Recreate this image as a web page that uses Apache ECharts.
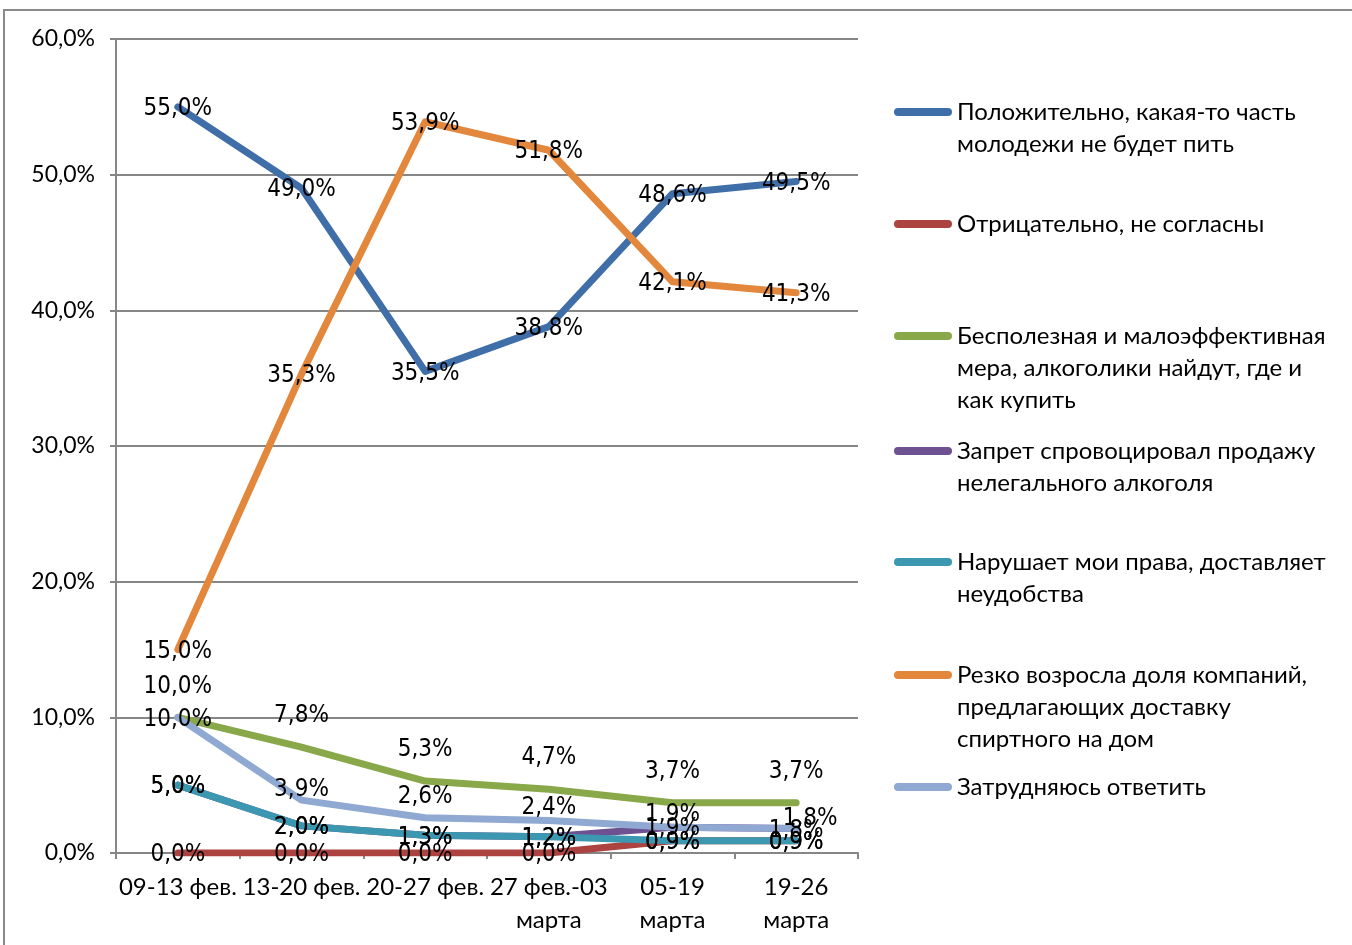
<!DOCTYPE html>
<html>
<head>
<meta charset="utf-8">
<script src="https://cdn.jsdelivr.net/npm/echarts@6/dist/echarts.min.js"></script>
<style>
html,body{margin:0;padding:0;background:#fff;}
#chart{width:1352px;height:945px;}
</style>
</head>
<body>
<div id="chart"></div>
<script>
// ---- data ----
const categories = ['09-13 фев.', '13-20 фев.', '20-27 фев.', '27 фев.-03\nмарта', '05-19\nмарта', '19-26\nмарта'];
const seriesNames = [
  'Положительно, какая-то часть\nмолодежи не будет пить',
  'Отрицательно, не согласны',
  'Бесполезная и малоэффективная\nмера, алкоголики найдут, где и\nкак купить',
  'Запрет спровоцировал продажу\nнелегального алкоголя',
  'Нарушает мои права, доставляет\nнеудобства',
  'Резко возросла доля компаний,\nпредлагающих доставку\nспиртного на дом',
  'Затрудняюсь ответить'
];
const positive   = [55.0, 49.0, 35.5, 38.8, 48.6, 49.5];
const negative   = [0.0, 0.0, 0.0, 0.0, 0.9, 0.9];
const useless    = [10.0, 7.8, 5.3, 4.7, 3.7, 3.7];
const illegal    = [5.0, 2.0, 1.3, 1.2, 1.9, 1.8];
const rights     = [5.0, 2.0, 1.3, 1.2, 0.9, 0.9];
const delivery   = [15.0, 35.3, 53.9, 51.8, 42.1, 41.3];
const undecided  = [10.0, 3.9, 2.6, 2.4, 1.9, 1.8];
const yTicks = [0, 10, 20, 30, 40, 50, 60];

// ---- styles ----
const colors = ['#3F6EA8', '#AD4340', '#88A84A', '#6E5190', '#3C97B0', '#E3873C', '#8FA9D2'];
const undecidedLabelOffsets = [[0, 2], [0, -10], [0, -21], [0, -13], [0, -12], [14, -10]];
const legendFirstLineY = [112, 224, 336, 451, 562, 675, 787];
const LH = 32;

const fmt = v => v.toFixed(1).replace('.', ',') + '%';
const allValues = [positive, negative, useless, illegal, rights, delivery, undecided];

const labelBase = {
  show: true,
  position: 'inside',
  fontFamily: '"DejaVu Sans Condensed", "Liberation Sans Narrow", sans-serif',
  fontSize: 24,
  color: '#000',
  opacity: 1,
  offset: [0, 2],
  formatter: p => fmt(p.value)
};

const series = allValues.map((vals, i) => {
  let data = vals.slice();
  let label = Object.assign({}, labelBase);
  if (i === 2) label.offset = [0, -31];
  if (i === 6) {
    data = vals.map((v, j) => ({ value: v, label: { offset: undecidedLabelOffsets[j] } }));
  }
  return {
    name: seriesNames[i],
    type: 'line',
    data: data,
    color: colors[i],
    symbol: 'circle',
    symbolSize: 1,
    showSymbol: true,
    showAllSymbol: true,
    itemStyle: { color: colors[i] },
    lineStyle: { width: 7, color: colors[i], cap: 'round', join: 'round' },
    label: label,
    emphasis: { disabled: true },
    animation: false,
    z: 2
  };
});

const pill = 'path://M4,0 L54,0 A4,4 0 0 1 54,8 L4,8 A4,4 0 0 1 4,0 Z';
const legends = seriesNames.map((name, i) => {
  const n = name.split('\n').length;
  return {
    data: [name],
    orient: 'vertical',
    left: 894,
    top: legendFirstLineY[i] - LH / 2 - LH * (n - 1),
    padding: 0,
    icon: pill,
    itemWidth: 58,
    itemHeight: 8,
    itemStyle: { borderWidth: 0, opacity: 1 },
    selectedMode: false,
    formatter: nm => ' \n'.repeat(n - 1) + nm,
    textStyle: {
      fontFamily: 'Lato, "Open Sans", sans-serif',
      fontSize: 24,
      lineHeight: LH,
      color: '#000'
    }
  };
});

const option = {
  animation: false,
  backgroundColor: '#fff',
  grid: { left: 116, right: 494, top: 39, bottom: 92, containLabel: false },
  legend: legends,
  graphic: [{
    type: 'rect',
    shape: { x: 4, y: 10, width: 1400, height: 1000 },
    style: { fill: 'none', stroke: '#8a8a8a', lineWidth: 2 },
    silent: true,
    z: -10
  }],
  xAxis: {
    type: 'category',
    data: categories,
    boundaryGap: true,
    axisLine: { show: true, lineStyle: { color: '#868686', width: 2 } },
    axisTick: { show: true, inside: false, length: 6, lineStyle: { color: '#868686', width: 2 }, alignWithLabel: false, interval: 0 },
    axisLabel: {
      interval: 0,
      margin: 18,
      color: '#000',
      fontFamily: 'Lato, "Open Sans", sans-serif',
      fontSize: 24,
      lineHeight: 33
    },
    splitLine: { show: false }
  },
  yAxis: {
    type: 'value',
    min: yTicks[0],
    max: yTicks[yTicks.length - 1],
    interval: 10,
    axisLine: { show: true, lineStyle: { color: '#868686', width: 2 } },
    axisTick: { show: true, length: 6, lineStyle: { color: '#868686', width: 2 } },
    axisLabel: {
      margin: 21,
      color: '#000',
      fontFamily: 'Lato, "Open Sans", sans-serif',
      fontSize: 23,
      formatter: v => fmt(v)
    },
    splitLine: { show: true, lineStyle: { color: '#868686', width: 2 } }
  },
  series: series
};

const chart = echarts.init(document.getElementById('chart'), null, { renderer: 'canvas' });
chart.setOption(option);
</script>
</body>
</html>
